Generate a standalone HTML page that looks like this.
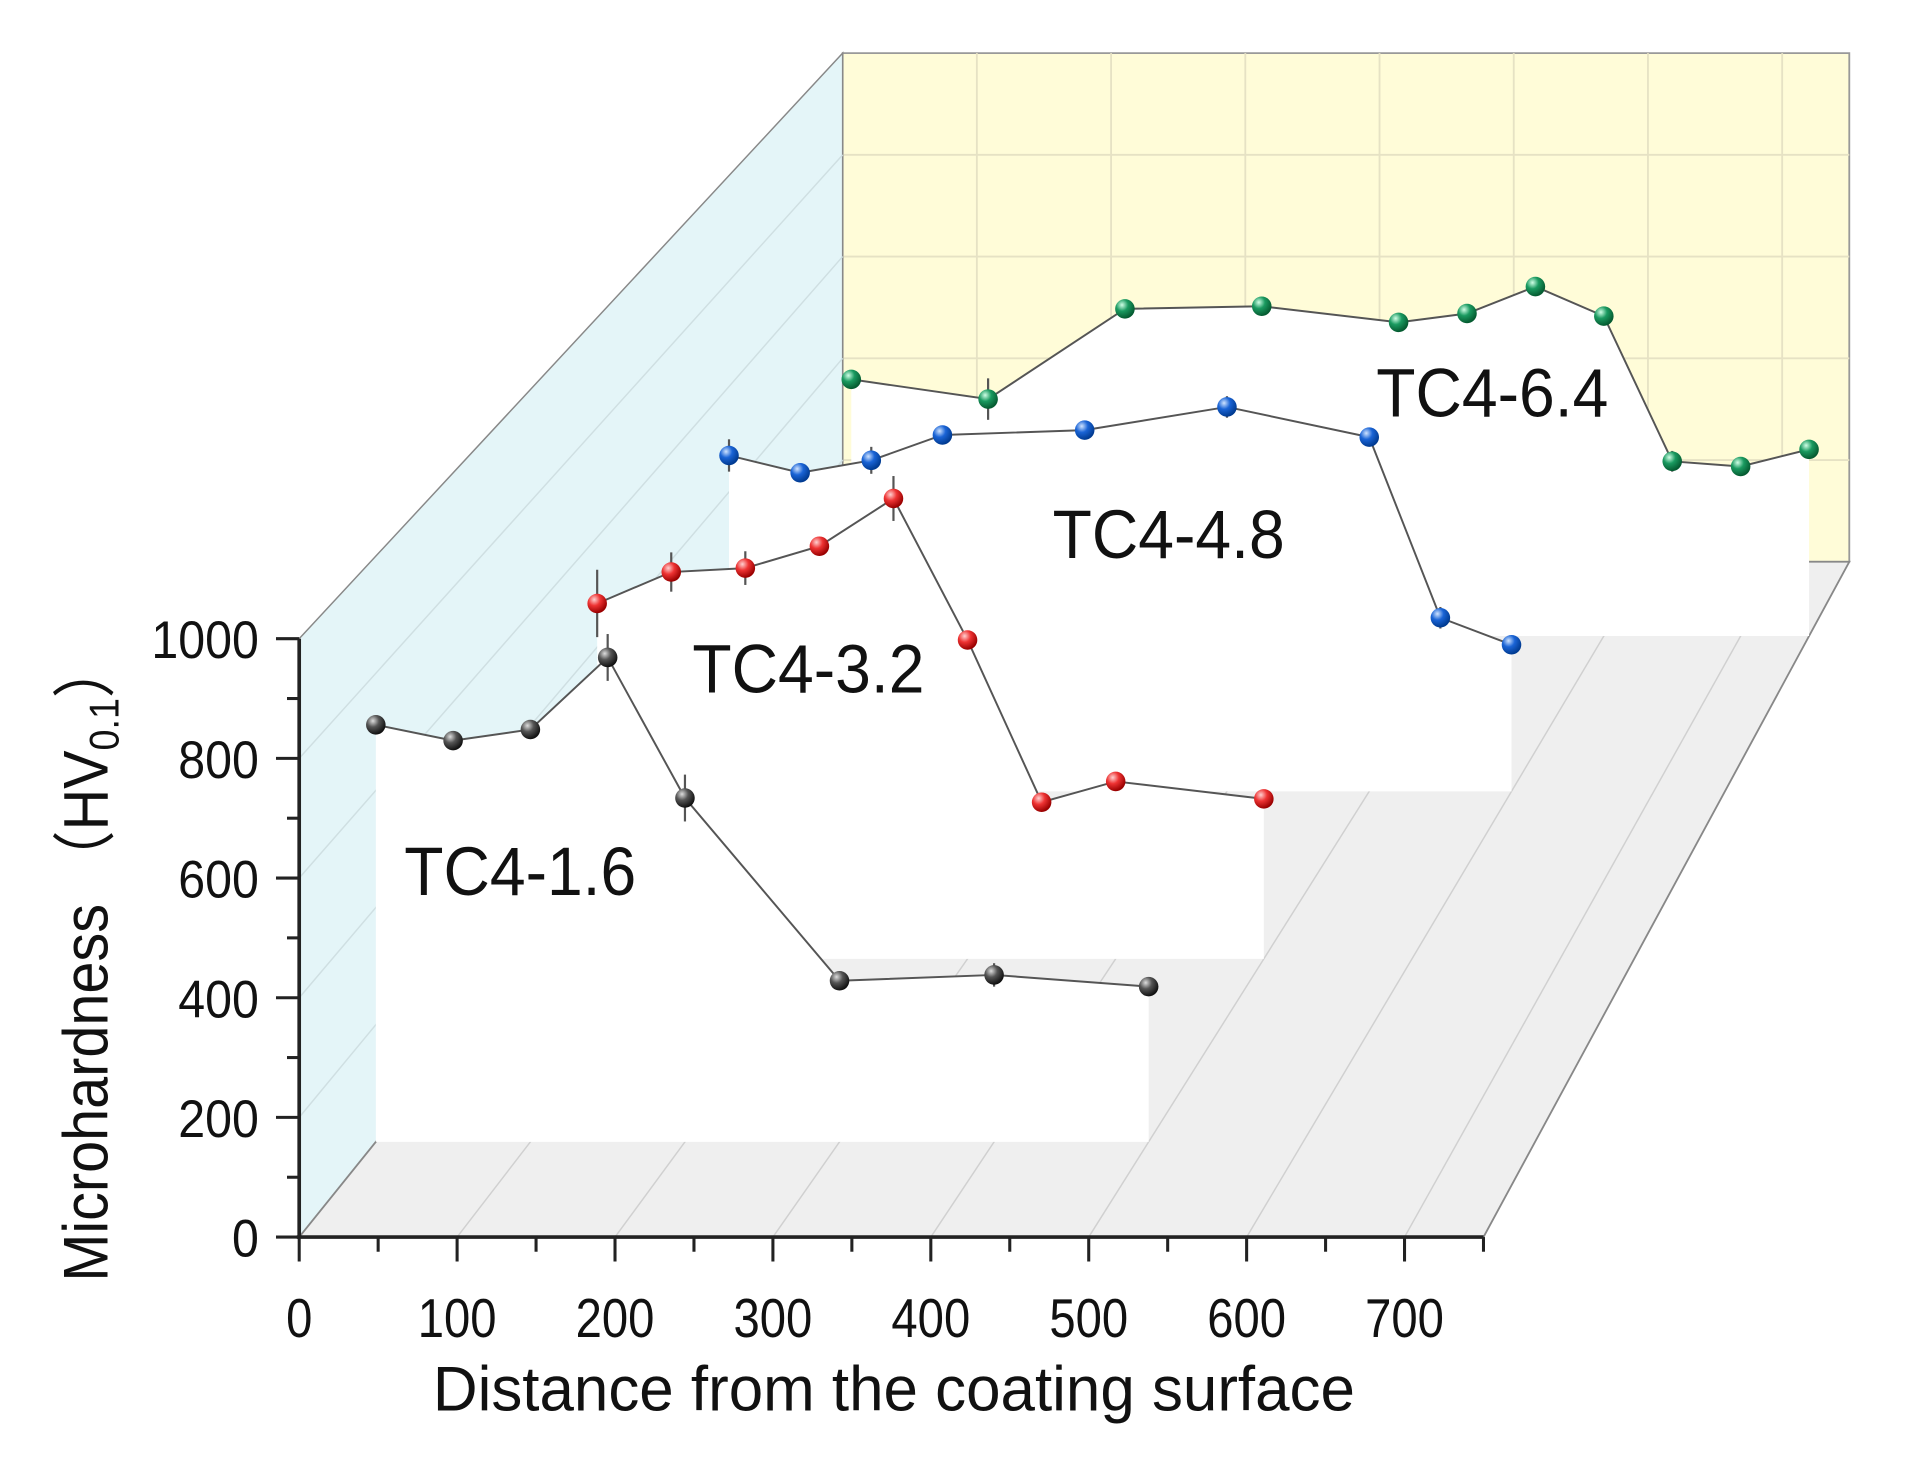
<!DOCTYPE html>
<html><head><meta charset="utf-8"><style>
html,body{margin:0;padding:0;background:#fff;}
svg{display:block;}
text{font-family:"Liberation Sans",Arial,sans-serif;fill:#111;}
</style></head><body>
<svg id="chart" width="1910" height="1463" viewBox="0 0 1564 1198" preserveAspectRatio="none" xmlns="http://www.w3.org/2000/svg">
<defs>
<radialGradient id="gK" cx="0.35" cy="0.3" r="0.7"><stop offset="0" stop-color="#ddd"/><stop offset="0.45" stop-color="#555"/><stop offset="1" stop-color="#111"/></radialGradient>
<radialGradient id="gR" cx="0.35" cy="0.3" r="0.7"><stop offset="0" stop-color="#ffd0d0"/><stop offset="0.45" stop-color="#e33"/><stop offset="1" stop-color="#900"/></radialGradient>
<radialGradient id="gB" cx="0.35" cy="0.3" r="0.7"><stop offset="0" stop-color="#cfe3ff"/><stop offset="0.45" stop-color="#1a64d6"/><stop offset="1" stop-color="#003a90"/></radialGradient>
<radialGradient id="gG" cx="0.35" cy="0.3" r="0.7"><stop offset="0" stop-color="#d0ffe6"/><stop offset="0.45" stop-color="#1a9a60"/><stop offset="1" stop-color="#055a30"/></radialGradient>
</defs>
<g id="walls"></g>
<g id="series"></g>
<g id="axes"></g>
</svg>
<script>
// ---- data ----
const seriesNames = ["TC4-6.4","TC4-4.8","TC4-3.2","TC4-1.6"];
const seriesDepth = [0.89, 0.66, 0.412, 0.141];
const x16 = [0,50,100,150,200,300,400,500];
const y16 = [712,685,704,827,587,275,285,265];
const e16 = [10,10,15,40,40,10,20,10];
const x32 = [50,100,150,200,250,300,350,400,500];
const y32 = [633,689,696,735,820,568,279,316,285];
const e32 = [60,35,30,10,40,10,10,10,10];
const x48 = [50,100,150,200,300,400,500,550,600];
const y48 = [623,591,614,661,670,713,657,322,272];
const e48 = [30,15,25,10,10,20,10,20,10];
const x64 = [50,150,250,350,450,500,550,600,650,700,750];
const y64 = [495,457,631,636,605,622,674,617,337,327,360];
const e64 = [15,40,10,10,10,10,15,10,20,10,15];
const xTicks = [0,100,200,300,400,500,600,700];
const yTicks = [0,200,400,600,800,1000];
const gridV = [100,200,300,400,500,600,700];
const gridH = [200,400,600,800];

const NS="http://www.w3.org/2000/svg";
function el(tag,attrs,parent){const e=document.createElementNS(NS,tag);for(const k in attrs)e.setAttribute(k,attrs[k]);parent.appendChild(e);return e;}
function P(x,y,t){const s=1-0.15*t;return [245+445*t+x*1.293*s, 1013-553*t-y*0.49*s];}
const walls=document.getElementById('walls'),ser=document.getElementById('series'),axes=document.getElementById('axes');
const pt=a=>a.map(p=>p.join(',')).join(' ');

let bw=el('polygon',{points:pt([P(0,0,1),P(750,0,1),P(750,1000,1),P(0,1000,1)]),fill:'#fffcd8',stroke:'#999','stroke-width':1.5},walls);

gridV.forEach(v=>{const l=el('line',{x1:P(v,0,1)[0],y1:P(v,0,1)[1],x2:P(v,1000,1)[0],y2:P(v,1000,1)[1],stroke:'#e6e2c4','stroke-width':1.5},walls);});
gridH.forEach(v=>{const l=el('line',{x1:P(0,v,1)[0],y1:P(0,v,1)[1],x2:P(750,v,1)[0],y2:P(750,v,1)[1],stroke:'#e6e2c4','stroke-width':1.5},walls);});
let lw=el('polygon',{points:pt([P(0,0,0),P(0,0,1),P(0,1000,1),P(0,1000,0)]),fill:'#e4f5f8',stroke:'#888','stroke-width':1.2},walls);

gridH.forEach(v=>{const l=el('line',{x1:P(0,v,0)[0],y1:P(0,v,0)[1],x2:P(0,v,1)[0],y2:P(0,v,1)[1],stroke:'#cfdfe2','stroke-width':1.2},walls);});
let fl=el('polygon',{points:pt([P(0,0,0),P(750,0,0),P(750,0,1),P(0,0,1)]),fill:'#efefef',stroke:'#888','stroke-width':1.5},walls);

gridV.forEach(v=>{const l=el('line',{x1:P(v,0,0)[0],y1:P(v,0,0)[1],x2:P(v,0,1)[0],y2:P(v,0,1)[1],stroke:'#d0d0d0','stroke-width':1.2},walls);});

const xs=[x64,x48,x32,x16],ys=[y64,y48,y32,y16],es=[e64,e48,e32,e16],grads=['gG','gB','gR','gK'];
const labelPos=[[1127,341],[862,457],[567,567],[331,733]];
for(let i=0;i<4;i++){
  const t=seriesDepth[i],X=xs[i],Y=ys[i],E=es[i];
  const line=X.map((x,j)=>P(x,Y[j],t));
  const poly=[P(X[0],0,t),...line,P(X[X.length-1],0,t)];
  const g=el('g',{},ser);
  
  
  const pan=el('polygon',{points:pt(poly),fill:'#fff',stroke:'none'},g);
  
  const pl=el('polyline',{points:pt(line),fill:'none',stroke:'#555','stroke-width':1.6},g);
  
  X.forEach((x,j)=>{
    const a=P(x,Y[j]+E[j],t),b=P(x,Y[j]-E[j],t);
    const eb=el('line',{x1:a[0],y1:a[1],x2:b[0],y2:b[1],stroke:'#555','stroke-width':1.8},g);
    
  });
  line.forEach(p=>{
    const c=el('circle',{cx:p[0],cy:p[1],r:8,fill:'url(#'+grads[i]+')'},g);
    
  });
  const lb=el('text',{x:labelPos[i][0],y:labelPos[i][1],'font-size':56,textLength:190,lengthAdjust:'spacingAndGlyphs'},g);
  lb.textContent=seriesNames[i];
  
}

const ya=el('line',{x1:245,y1:P(0,0,0)[1],x2:245,y2:P(0,1000,0)[1],stroke:'#222','stroke-width':3},axes);

const xa=el('line',{x1:243,y1:1013,x2:P(750,0,0)[0],y2:1013,stroke:'#222','stroke-width':3},axes);

for(let v=0;v<=1000;v+=100){
  const y=P(0,v,0)[1],maj=v%200===0;
  const tk=el('line',{x1:maj?226:235,y1:y,x2:245,y2:y,stroke:'#222','stroke-width':2.5},axes);
  
}
yTicks.forEach(v=>{const y=P(0,v,0)[1];const s=String(v);const t=el('text',{x:212,y:y+16,'font-size':43,'text-anchor':'end',textLength:22*s.length,lengthAdjust:'spacingAndGlyphs'},axes);t.textContent=s;});
for(let v=0;v<=750;v+=50){
  const x=P(v,0,0)[0],maj=v%100===0;
  const tk=el('line',{x1:x,y1:1013,x2:x,y2:maj?1033:1025,stroke:'#222','stroke-width':2.5},axes);
  
}
xTicks.forEach(v=>{const x=P(v,0,0)[0];const s=String(v);const t=el('text',{x:x,y:1095,'font-size':45,'text-anchor':'middle',textLength:21.5*s.length,lengthAdjust:'spacingAndGlyphs'},axes);t.textContent=s;});
const xt=el('text',{x:732,y:1155,'font-size':52,'text-anchor':'middle',textLength:755,lengthAdjust:'spacingAndGlyphs'},axes);
xt.textContent='Distance from the coating surface';

const yt=el('text',{x:0,y:0,'font-size':52,'text-anchor':'middle',textLength:525,lengthAdjust:'spacingAndGlyphs',transform:'translate(88,787) rotate(-90)'},axes);

yt.innerHTML='Microhardness （HV<tspan font-size="34" dy="9">0.1</tspan><tspan dy="-9">）</tspan>';
</script>
</body></html>
